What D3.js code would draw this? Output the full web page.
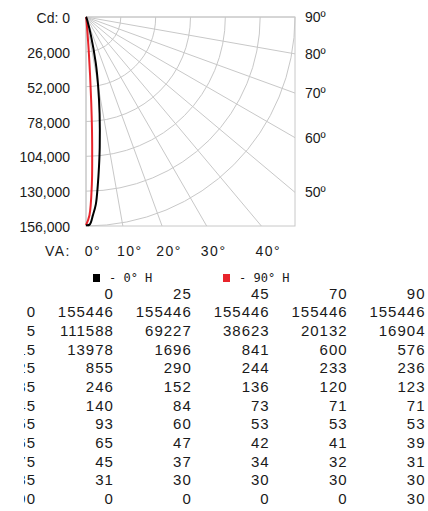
<!DOCTYPE html>
<html>
<head>
<meta charset="utf-8">
<script src="https://cdn.jsdelivr.net/npm/d3@7"></script>
<style>
  body { margin: 0; background: #fff; }
  text { font-family: "Liberation Sans", Arial, sans-serif; fill: #1a1a1a; }
  .mono { font-family: "DejaVu Sans Mono", monospace; }
</style>
</head>
<body>
<svg id="chart" width="428" height="511"></svg>
<script>
// photometric table (horizontal angle columns, vertical angle rows)
const hAngles = [0, 25, 45, 70, 90];
const vAngles = [0, 5, 15, 25, 35, 45, 55, 65, 75, 85, 90];
const cdH0  = [155446, 111588, 13978, 855, 246, 140, 93, 65, 45, 31, 0];
const cdH25 = [155446, 69227, 1696, 290, 152, 84, 60, 47, 37, 30, 0];
const cdH45 = [155446, 38623, 841, 244, 136, 73, 53, 42, 34, 30, 0];
const cdH70 = [155446, 20132, 600, 233, 120, 71, 53, 41, 32, 30, 0];
const cdH90 = [155446, 16904, 576, 236, 123, 71, 53, 39, 31, 30, 30];

// polar curves (finer vertical steps than the table)
const curveV0  = [0, 1, 2, 3, 4, 5, 6, 8, 10, 12, 15, 20, 25, 35, 90];
const curveCd0 = [155446, 155000, 148000, 140000, 126000, 111588, 98000, 73000, 52000, 35000, 13978, 3000, 855, 246, 0];
const curveV90  = [0, 1, 2, 2.5, 3, 3.5, 4, 4.5, 5, 7, 10, 15, 25, 90];
const curveCd90 = [155446, 148000, 125000, 106000, 86000, 64000, 44000, 28000, 16904, 4000, 1500, 576, 236, 30];

const cdTicks = [0, 26000, 52000, 78000, 104000, 130000, 156000];
const vaTicks = [0, 10, 20, 30, 40];
const sideTicks = [90, 80, 70, 60, 50];
const rayAngles = [0, 10, 20, 30, 40, 50, 60, 70, 80, 90];

const svg = d3.select('#chart');
const ox = 86, oy = 17, R = 209;
const rScale = d3.scaleLinear().domain([0, 156000]).range([0, R]);
const rad = deg => Math.PI - deg * Math.PI / 180;   // 0° points down, 90° to the right

const plot = svg.append('g').attr('transform', 'translate(' + ox + ',' + oy + ')');

// box
plot.append('rect')
  .attr('x', 0).attr('y', 0).attr('width', R).attr('height', R)
  .attr('fill', 'none').attr('stroke', '#c8c8c8');

// candela arcs
cdTicks.slice(1).forEach(v => {
  const p = d3.path();
  const r = rScale(v);
  p.moveTo(0, r);
  p.arc(0, 0, r, Math.PI / 2, 0, true);
  plot.append('path').attr('d', p.toString())
    .attr('fill', 'none').attr('stroke', '#c8c8c8');
});

// rays
rayAngles.forEach(a => {
  const t = a * Math.PI / 180;
  const len = a <= 45 ? R / Math.cos(t) : R / Math.sin(t);
  const pt = d3.pointRadial(rad(a), len);
  plot.append('line')
    .attr('x1', 0).attr('y1', 0).attr('x2', pt[0]).attr('y2', pt[1])
    .attr('stroke', '#c8c8c8');
});

// curves
const radial = d3.lineRadial()
  .angle(d => rad(d[0]))
  .radius(d => rScale(d[1]))
  .curve(d3.curveCatmullRom.alpha(0.5));

plot.append('path')
  .attr('d', radial(d3.zip(curveV90, curveCd90)))
  .attr('fill', 'none').attr('stroke', '#e8242b').attr('stroke-width', 2);
plot.append('path')
  .attr('d', radial(d3.zip(curveV0, curveCd0)))
  .attr('fill', 'none').attr('stroke', '#000').attr('stroke-width', 2);

// candela labels
const fmt = d3.format(',');
svg.append('g').selectAll('text')
  .data(cdTicks).enter().append('text')
  .attr('x', 70)
  .attr('y', d => oy + rScale(d) + 6)
  .attr('text-anchor', 'end')
  .style('font-size', '14px')
  .text(d => d === 0 ? 'Cd: 0' : fmt(d));

// vertical angle labels along the bottom
svg.append('text')
  .attr('x', 71).attr('y', 256)
  .attr('text-anchor', 'end')
  .style('font-size', '14px')
  .style('letter-spacing', '1.5px')
  .text('VA:');
svg.append('g').selectAll('text')
  .data(vaTicks).enter().append('text')
  .attr('x', d => ox + R * Math.tan(d * Math.PI / 180) + 7)
  .attr('y', 256)
  .attr('text-anchor', 'middle')
  .style('font-size', '14px')
  .style('letter-spacing', '1.5px')
  .text(d => d + '°');

// side angle labels
svg.append('g').selectAll('text')
  .data(sideTicks).enter().append('text')
  .attr('x', 305)
  .attr('y', d => oy + R / Math.tan(d * Math.PI / 180) + 5)
  .style('font-size', '14px')
  .text(d => d + 'º');

// legend
const legend = [
  { label: '- 0° H', color: '#000', x: 93 },
  { label: '- 90° H', color: '#e8242b', x: 223 }
];
legend.forEach(l => {
  svg.append('rect').attr('x', l.x).attr('y', 274).attr('width', 7).attr('height', 8).attr('fill', l.color);
  svg.append('text').attr('class', 'mono').attr('x', l.x + 16).attr('y', 282)
    .style('font-size', '12px').text(l.label);
});

// table
svg.append('clipPath').attr('id', 'tblClip')
  .append('rect').attr('x', 24).attr('y', 284).attr('width', 404).attr('height', 227);
const tbl = svg.append('g').attr('clip-path', 'url(#tblClip)')
  .style('font-size', '15px').style('letter-spacing', '1px');

const colX = d3.scaleLinear().domain([-1, 4]).range([36, 425.5]);
const rowY = d3.scaleLinear().domain([0, 10]).range([317.3, 504]);
const columns = [cdH0, cdH25, cdH45, cdH70, cdH90];

tbl.selectAll('text.head')
  .data(hAngles).enter().append('text')
  .attr('class', 'head')
  .attr('x', (d, i) => colX(i)).attr('y', 298.7)
  .attr('text-anchor', 'end').text(d => d);

vAngles.forEach((v, j) => {
  const row = [v].concat(columns.map(c => c[j]));
  tbl.selectAll('text.r' + j)
    .data(row).enter().append('text')
    .attr('class', 'r' + j)
    .attr('x', (d, i) => colX(i - 1)).attr('y', rowY(j))
    .attr('text-anchor', 'end').text(d => d);
});
</script>
</body>
</html>
